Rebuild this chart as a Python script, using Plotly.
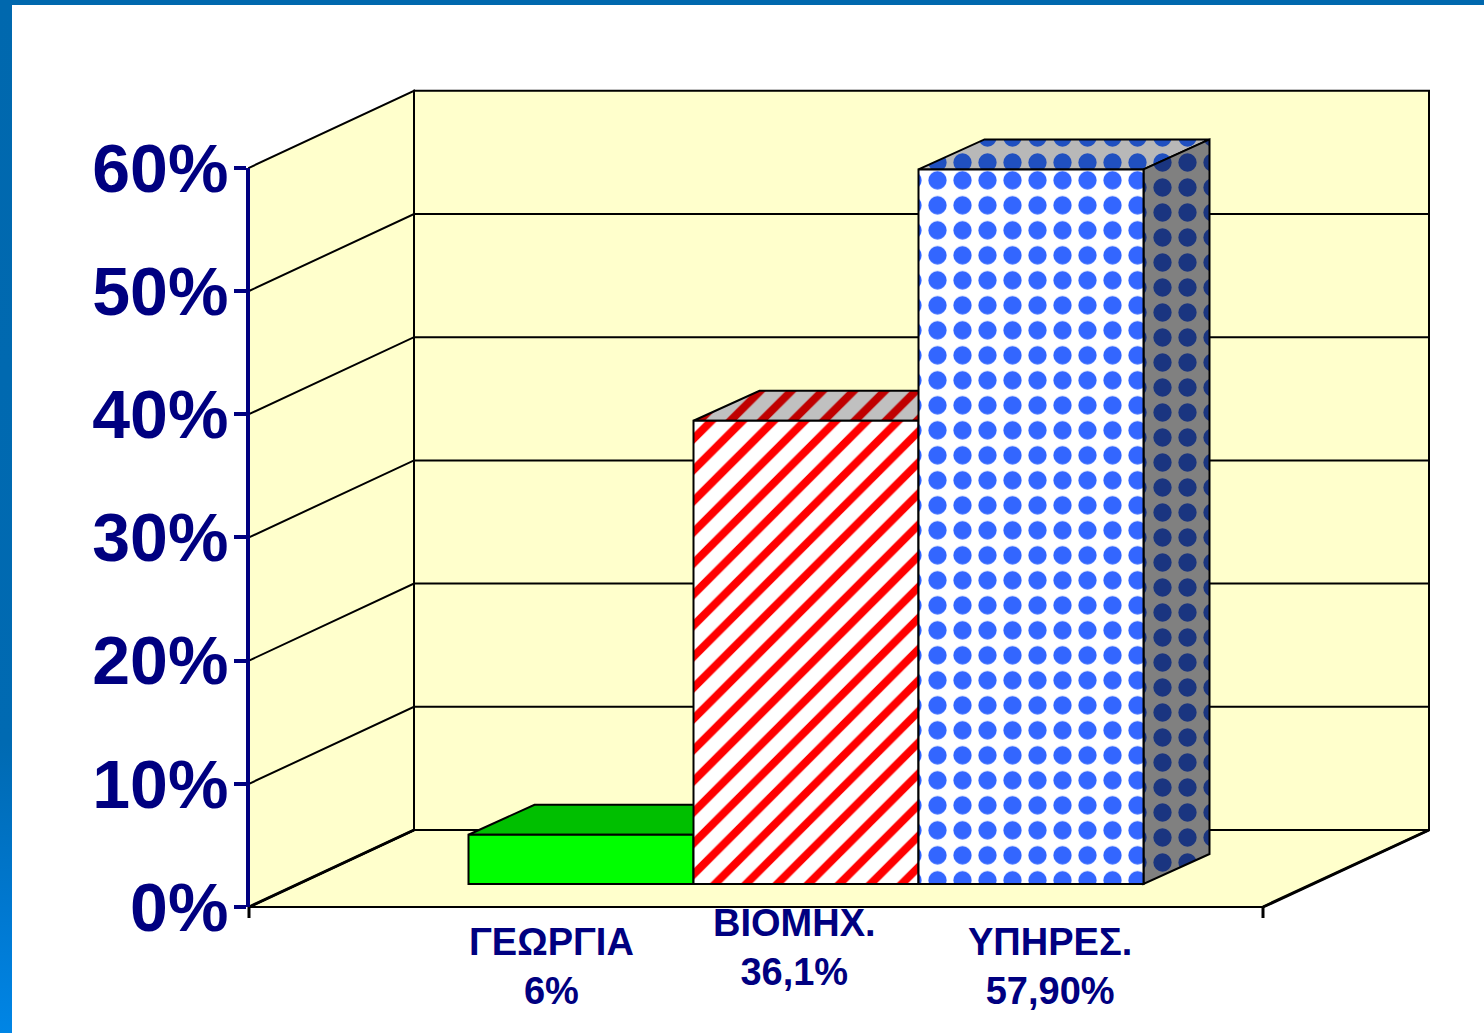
import plotly.graph_objects as go

# ---- data ----
categories = ["ΓΕΩΡΓΙΑ", "ΒΙΟΜΗΧ.", "ΥΠΗΡΕΣ."]
value_labels = ["6%", "36,1%", "57,90%"]
bar_positions = [0, 1, 2]
bar_values = [4.0, 37.6, 58.0]          # height of each drawn bar, in %
tick_values = [0, 10, 20, 30, 40, 50, 60]
tick_labels = ["0%", "10%", "20%", "30%", "40%", "50%", "60%"]

# ---- 3-D look (in axis units) ----
W, H = 1484, 1033
PX_X = 225.0                 # pixels per bar slot
PX_Y = 12.32                 # pixels per percent
X_ORIGIN = 581.0             # pixel of first bar centre
Y_ZERO = 907.0               # pixel of 0 %
bar_base = 23 / PX_Y
bar_dx, bar_dy = 66 / PX_X, 30 / PX_Y
wall_dx, wall_dy = 165 / PX_X, 77 / PX_Y
floor_left, floor_right = (249 - X_ORIGIN) / PX_X, (1263 - X_ORIGIN) / PX_X
y_top = 60

NAVY = "#000080"
WALL = "#FFFFCC"
LABEL_FONT = "Liberation Sans, Arial, sans-serif"

x_range = [-X_ORIGIN / PX_X, (W - X_ORIGIN) / PX_X]
y_range = [(Y_ZERO - H) / PX_Y, Y_ZERO / PX_Y]

fig = go.Figure()


def poly(xs, ys, fill=None, pattern=None, line_w=2, line_col="black"):
    kw = {}
    if pattern:
        kw["fillpattern"] = pattern
    fig.add_trace(go.Scatter(
        x=xs, y=ys, mode="lines", fill="toself" if (fill or pattern) else None,
        fillcolor=fill, line=dict(color=line_col, width=line_w),
        hoverinfo="skip", showlegend=False, **kw))


# frame strips
sx = 12 / PX_X
sy = 5 / PX_Y
for xs, ys, cs in [
    ([x_range[0], x_range[0] + sx, x_range[0] + sx, x_range[0], x_range[0]],
     [y_range[0], y_range[0], y_range[1], y_range[1], y_range[0]],
     [[0, "#0085E5"], [0.12, "#0078D0"], [0.28, "#006AB2"], [1, "#0068AE"]]),
    ([x_range[0], x_range[1], x_range[1], x_range[0], x_range[0]],
     [y_range[1] - sy, y_range[1] - sy, y_range[1], y_range[1], y_range[1] - sy],
     [[0, "#0068AE"], [1, "#0068AE"]]),
]:
    fig.add_trace(go.Scatter(
        x=xs, y=ys, mode="lines", fill="toself", line=dict(width=0),
        fillgradient=dict(type="vertical", colorscale=cs),
        hoverinfo="skip", showlegend=False))

# walls and floor
back_l, back_r = floor_left + wall_dx, floor_left + wall_dx + (1429 - 414) / PX_X
poly([floor_left, floor_right, back_r, back_l, floor_left],
     [0, 0, wall_dy, wall_dy, 0], fill=WALL)
poly([floor_left, back_l, back_l, floor_left, floor_left],
     [0, wall_dy, wall_dy + y_top, y_top, 0], fill=WALL)
poly([back_l, back_r, back_r, back_l, back_l],
     [wall_dy, wall_dy, wall_dy + y_top, wall_dy + y_top, wall_dy], fill=WALL)

# gridlines
gx, gy = [], []
for v in tick_values[1:-1]:
    gx += [floor_left, back_l, back_r, None]
    gy += [v, v + wall_dy, v + wall_dy, None]
fig.add_trace(go.Scatter(x=gx, y=gy, mode="lines", line=dict(color="black", width=2),
                         hoverinfo="skip", showlegend=False))

# heavier receding floor edges and small ticks under the floor
tick_drop = 11 / PX_Y
fig.add_trace(go.Scatter(
    x=[floor_left, back_l, None, floor_right, back_r, None,
       floor_left, floor_left, None, floor_right, floor_right],
    y=[0, wall_dy, None, 0, wall_dy, None, 0, -tick_drop, None, 0, -tick_drop],
    mode="lines", line=dict(color="black", width=3),
    hoverinfo="skip", showlegend=False))

# bar top and side faces
styles = [
    dict(top=dict(fill="#00BF00")),
    dict(top=dict(pattern=dict(shape="/", fgcolor="#C00000", bgcolor="#C0C0C0",
                               size=22, solidity=0.36, fillmode="replace"))),
    dict(top=dict(pattern=dict(shape=".", fgcolor="#2050C0", bgcolor="#B8B8B8",
                               size=25, solidity=0.42, fillmode="replace")),
         side=dict(pattern=dict(shape=".", fgcolor="#1A3580", bgcolor="#808080",
                                size=25, solidity=0.42, fillmode="replace"))),
]
for i, v, st in zip(bar_positions, bar_values, styles):
    t = bar_base + v
    poly([i - .5, i + .5, i + .5 + bar_dx, i - .5 + bar_dx, i - .5],
         [t, t, t + bar_dy, t + bar_dy, t], **st["top"])
    if "side" in st:
        poly([i + .5, i + .5 + bar_dx, i + .5 + bar_dx, i + .5, i + .5],
             [t, t + bar_dy, bar_base + bar_dy, bar_base, t], **st["side"])

# bar front faces, on the value axis
fronts = [
    dict(color="#00FF00"),
    dict(color="white", pattern=dict(shape="/", fgcolor="#FF0000", bgcolor="white",
                                     size=22, solidity=0.36, fillmode="replace")),
    dict(color="white", pattern=dict(shape=".", fgcolor="#3366FF", bgcolor="white",
                                     size=25, solidity=0.42, fillmode="replace")),
]
for i, (pos, val, name, mk) in enumerate(zip(bar_positions, bar_values, categories, fronts)):
    fig.add_trace(go.Bar(
        x=[pos], y=[val], base=[bar_base], width=[1], name=name, yaxis="y2",
        marker=dict(line=dict(color="black", width=2), **mk),
        showlegend=False))

# category labels
label_x_shift = [-30 / PX_X, -12 / PX_X, 19 / PX_X]
label_y = [(Y_ZERO - 966) / PX_Y, (Y_ZERO - 947) / PX_Y, (Y_ZERO - 966) / PX_Y]
for pos, cat, lab, dx, ly in zip(bar_positions, categories, value_labels, label_x_shift, label_y):
    fig.add_annotation(
        x=pos + dx, y=ly, text=f"<b>{cat}</b><br><b>{lab}</b>", showarrow=False,
        font=dict(family=LABEL_FONT, size=38, color=NAVY), align="center",
        xanchor="center", yanchor="middle", yref="y")

fig.update_layout(
    width=W, height=H, margin=dict(l=0, r=0, t=0, b=0),
    paper_bgcolor="white", plot_bgcolor="rgba(0,0,0,0)", barmode="overlay",
    showlegend=False,
    xaxis=dict(range=x_range, visible=False, fixedrange=True, automargin=False),
    yaxis=dict(range=y_range, visible=False, fixedrange=True, domain=[0, 1], automargin=False),
    yaxis2=dict(
        range=[0, y_top], automargin=False,
        domain=[(H - Y_ZERO) / H, (H - (Y_ZERO - PX_Y * y_top)) / H],
        anchor="free", position=248 / W, side="left",
        tickmode="array", tickvals=tick_values, ticktext=tick_labels,
        tickfont=dict(family=LABEL_FONT, size=68, color=NAVY, weight="bold"),
        ticks="outside", ticklen=12, tickwidth=4, tickcolor=NAVY, ticklabelstandoff=-8,
        showline=True, linecolor=NAVY, linewidth=4, showgrid=False, zeroline=False,
        fixedrange=True),
)

fig.write_html("out.html", config={"displayModeBar": False},
               post_script="document.body.style.margin='0';")
